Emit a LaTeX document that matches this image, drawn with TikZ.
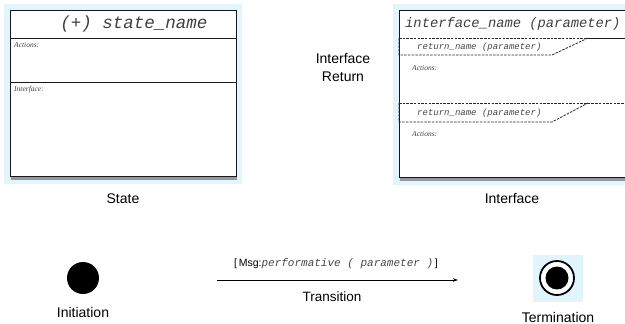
\documentclass[tikz,border=0pt]{standalone}
\usepackage{fontspec}
\setmainfont{Liberation Sans}
\newfontfamily\monofont{Liberation Mono}
\newfontfamily\seriffont{Liberation Serif}
\usetikzlibrary{arrows.meta}
\definecolor{glow}{RGB}{226,244,252}
\definecolor{shadowgray}{RGB}{100,105,115}
\definecolor{textgray}{RGB}{70,70,70}
\tikzset{
  boxline/.style={draw=black!90, line width=1.1pt},
  sepline/.style={draw=black!90, line width=0.9pt},
  dashline/.style={draw=black!85, line width=0.8pt, dash pattern=on 2.5pt off 1.2pt},
  lbl/.style={font=\fontsize{14}{16}\selectfont, inner sep=0pt},
  small/.style={font=\seriffont\itshape\fontsize{7.5}{8}\selectfont, text=black!75, anchor=west, inner sep=0pt},
  retname/.style={font=\monofont\itshape\fontsize{9}{10}\selectfont, text=textgray, anchor=west, inner sep=0pt},
}
\begin{document}
\begin{tikzpicture}[x=1pt,y=-1pt]
\useasboundingbox (0,0) rectangle (625,324);
\clip (0,0) rectangle (625,324);
% ---------- State box ----------
\fill[glow] (4,4) rectangle (242,184);
\fill[shadowgray!70] (11,177) rectangle (237,180);
\fill[white] (10,10) rectangle (236,176);
\node[inner sep=0pt, minimum width=226pt, minimum height=166pt, boxline, anchor=north west] (state) at (10,10) {};
\draw[sepline] (10,38) -- (236,38);
\draw[sepline] (10,82) -- (236,82);
\node[font=\monofont\itshape\fontsize{17.5}{18}\selectfont, text=black!75, inner sep=0pt] (sname) at (134,24) {(+) state\_name};
\node[small] (sact) at (14,45) {Actions:};
\node[small] (sint) at (14,90) {Interface:};
\node[lbl] (statelbl) at (123,199) {State};
% ---------- Interface box ----------
\fill[glow] (393,4) rectangle (640,185);
\fill[shadowgray!70] (400,178) rectangle (640,181);
\fill[white] (399,10) rectangle (640,177);
\node[inner sep=0pt, minimum width=241pt, minimum height=167pt, boxline, anchor=north west] (iface) at (399,10) {};
\node[font=\monofont\itshape\fontsize{13.8}{15}\selectfont, text=black!75, inner sep=0pt, anchor=west] (iname) at (405,24) {interface\_name (parameter)};
% first return block
\draw[dashline] (399,38) -- (588,38);
\draw[sepline] (588,38) -- (640,38);
\draw[dashline] (399,38) -- (399,55) -- (552,55) -- (588,38);
\node[retname] (r1) at (417,47) {return\_name (parameter)};
\node[small] (a1) at (412,68) {Actions:};
% second return block
\draw[dashline] (399,103) -- (640,103);
\draw[dashline] (399,103) -- (399,122) -- (552,122) -- (588,103);
\node[retname] (r2) at (417,113) {return\_name (parameter)};
\node[small] (a2) at (412,134) {Actions:};
\node[lbl] (ifacelbl) at (512,199) {Interface};
% Interface Return label
\node[lbl, align=center, font=\fontsize{14}{18}\selectfont] (irlbl) at (343,68) {Interface\\Return};
% ---------- Initiation ----------
\node[circle, fill=black, minimum size=32pt, inner sep=0pt] (init) at (83,278) {};
\node[lbl] (initlbl) at (83,312) {Initiation};
% ---------- Transition ----------
\coordinate (ta) at (217,280);
\coordinate (tb) at (458,280);
\draw[line width=0.8pt, -{Stealth[length=5pt,width=3.5pt]}] (ta) -- (tb);
\node[inner sep=0pt] (msg) at (336,264) {\fontsize{10.5}{12}\selectfont[\,Msg:{\monofont\itshape\fontsize{11}{12}\selectfont\color{textgray}performative ( parameter )}\,]};
\node[lbl, font=\fontsize{13.5}{15}\selectfont] (translbl) at (332,297) {Transition};
% ---------- Termination ----------
\fill[glow] (533,255) rectangle (583,302);
\node[circle, fill=white, draw=black, line width=1.8pt, minimum size=34pt, inner sep=0pt] (term) at (557,278) {};
\node[circle, fill=black, minimum size=23pt, inner sep=0pt] (termin) at (term.center) {};
\node[lbl] (termlbl) at (558,317) {Termination};
\end{tikzpicture}
\end{document}
